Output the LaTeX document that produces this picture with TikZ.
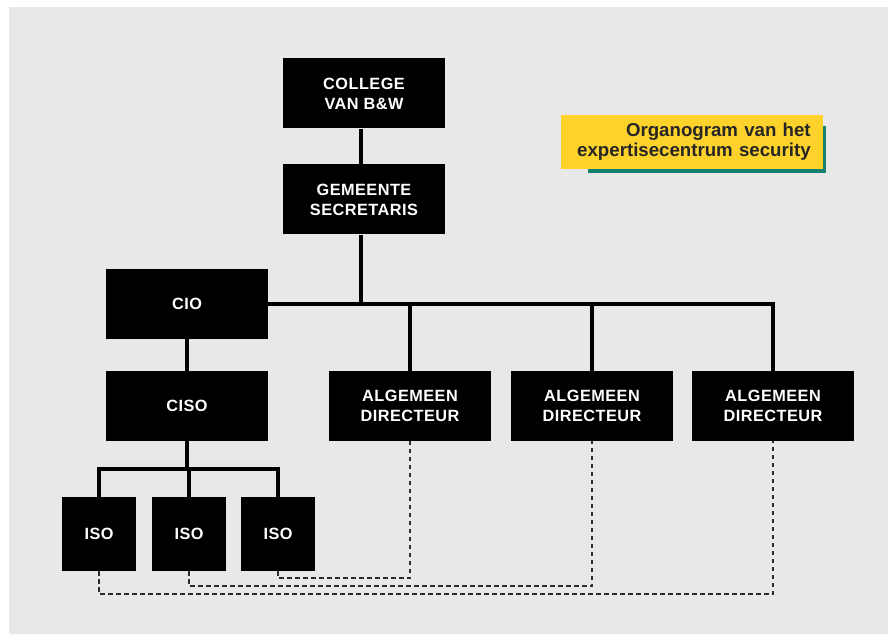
\documentclass[tikz,border=0pt]{standalone}
\usepackage{fontspec}
\setmainfont{Liberation Sans}
\newfontfamily\boxfont[LetterSpace=3]{Liberation Sans}
\definecolor{bggray}{RGB}{232,232,230}
\definecolor{titleyellow}{RGB}{253,210,43}
\definecolor{shadowteal}{RGB}{20,128,112}
\definecolor{titletext}{RGB}{38,38,38}
\definecolor{dashgray}{RGB}{45,45,45}
\begin{document}
\begin{tikzpicture}[x=0.75pt,y=-0.75pt,
    orgbox/.style={fill=black,text=white,align=center,inner sep=0pt,
        font=\boxfont\bfseries\fontsize{12.2}{15}\selectfont,
        minimum width=121.5pt,minimum height=52.5pt},
    isobox/.style={orgbox,minimum width=55.5pt,minimum height=55.5pt},
    titlebox/.style={fill=titleyellow,text=titletext,align=right,
        font=\bfseries\fontsize{14}{15}\selectfont,
        text width=178pt,inner xsep=9pt,inner ysep=0pt,minimum height=40.5pt},
    orgline/.style={line width=2.4pt},
    dashline/.style={draw=dashgray,line width=1.2pt,dash pattern=on 3.5pt off 2.5pt}]
    \useasboundingbox (0,0) rectangle (888,634);
    \fill[white] (0,0) rectangle (888,634);
    \fill[bggray] (9,7) rectangle (888,634);

    % title
    \fill[shadowteal] (588,126) rectangle (826,173);
    \node[titlebox] (title) at (692,142) {Organogram van het\\expertisecentrum security};

    % boxes
    \node[orgbox] (college) at (364,93.5) {COLLEGE\\VAN B\&W};
    \node[orgbox] (gemeente) at (364,199.5) {GEMEENTE\\SECRETARIS};
    \node[orgbox] (cio) at (187,304) {CIO};
    \node[orgbox] (ciso) at (187,406) {CISO};
    \node[orgbox] (ad1) at (410,406) {ALGEMEEN\\DIRECTEUR};
    \node[orgbox] (ad2) at (592,406) {ALGEMEEN\\DIRECTEUR};
    \node[orgbox] (ad3) at (773,406) {ALGEMEEN\\DIRECTEUR};
    \node[isobox] (iso1) at (99,534) {ISO};
    \node[isobox] (iso2) at (189,534) {ISO};
    \node[isobox] (iso3) at (278,534) {ISO};

    % solid lines
    \coordinate (split) at ([xshift=-2.25pt]gemeente.south |- cio.east);
    \coordinate (isobar) at (ciso.south |- 0,469);
    \draw[orgline] ([xshift=-2.25pt]college.south) -- ([xshift=-2.25pt]gemeente.north);
    \draw[orgline] ([xshift=-2.25pt]gemeente.south) -- (split);
    \draw[orgline] (cio.east) -| (ad3.north);
    \draw[orgline] (ad1.north) -- (ad1.north |- split);
    \draw[orgline] (ad2.north) -- (ad2.north |- split);
    \draw[orgline] (cio.south) -- (ciso.north);
    \draw[orgline] (ciso.south) -- (isobar);
    \draw[orgline] (iso1.north) |- (isobar) -| (iso3.north);
    \draw[orgline] (iso2.north) -- (iso2.north |- isobar);

    % dashed lines
    \draw[dashline] (iso3.south) -- ++(0,7) -| (ad1.south);
    \draw[dashline] (iso2.south) -- ++(0,15) -| (ad2.south);
    \draw[dashline] (iso1.south) -- ++(0,23) -| (ad3.south);
\end{tikzpicture}
\end{document}
